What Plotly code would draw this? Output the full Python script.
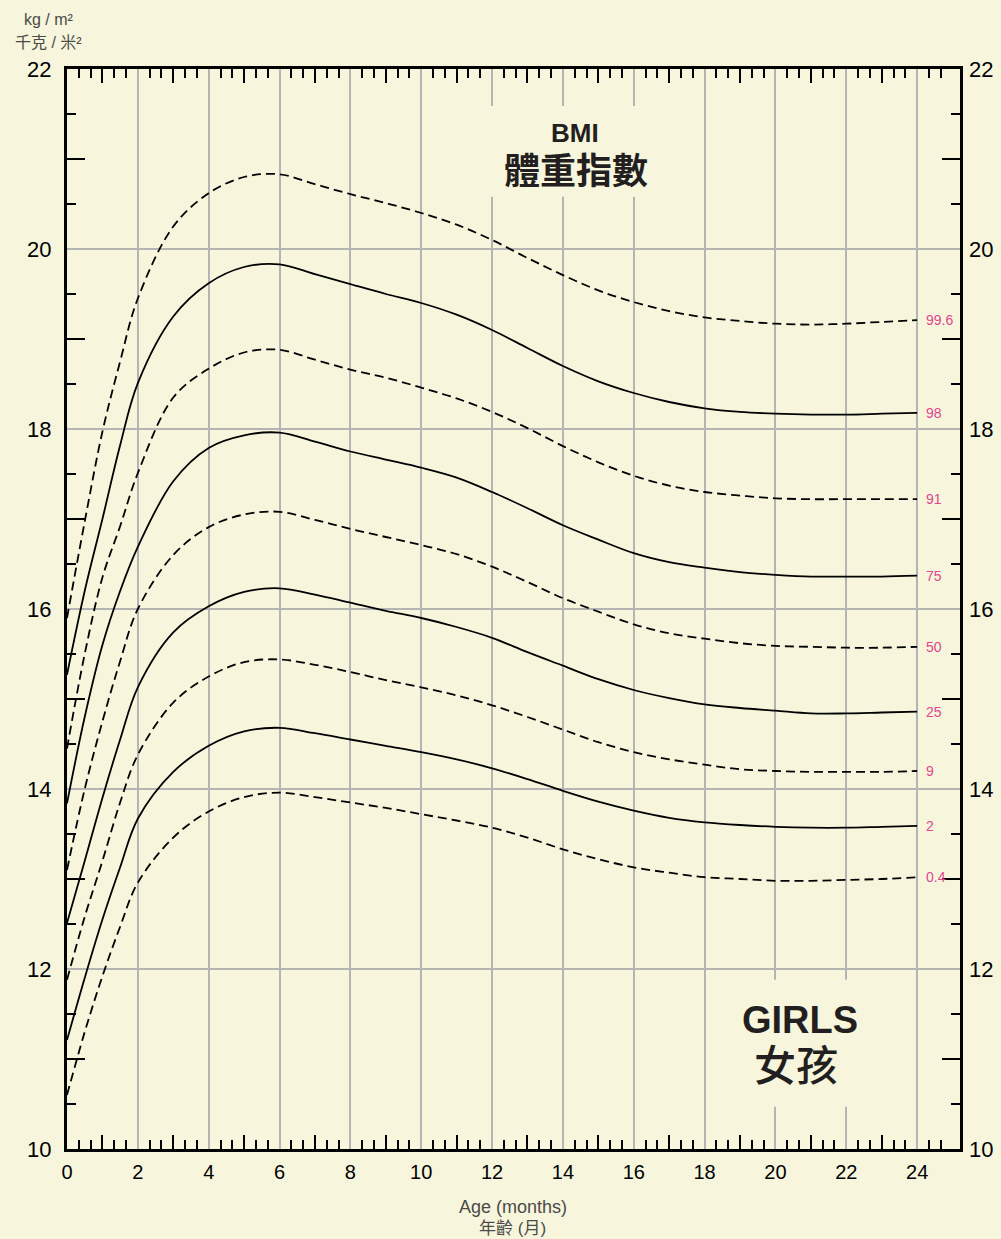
import plotly.graph_objects as go

# ---- data (BMI, girls, 0-24 months) ----
months = [0, 0.5, 1, 1.5, 2, 3, 4, 5, 6, 7, 8, 9, 10, 11, 12,
          13, 14, 15, 16, 17, 18, 19, 20, 21, 22, 23, 24]

p0_4 = [10.60, 11.30, 11.92, 12.47, 12.96, 13.46, 13.75, 13.91, 13.96, 13.91, 13.85, 13.79, 13.72, 13.65,
        13.57, 13.46, 13.33, 13.22, 13.13, 13.07, 13.02, 13.00, 12.98, 12.98, 12.99, 13.00, 13.02]
p2 = [11.21, 11.90, 12.55, 13.13, 13.67, 14.19, 14.48, 14.64, 14.68, 14.62, 14.55, 14.48, 14.41, 14.33,
      14.23, 14.11, 13.98, 13.86, 13.76, 13.68, 13.63, 13.60, 13.58, 13.57, 13.57, 13.58, 13.59]
p9 = [11.88, 12.58, 13.20, 13.85, 14.38, 14.96, 15.25, 15.41, 15.44, 15.38, 15.30, 15.21, 15.13, 15.04,
      14.93, 14.80, 14.66, 14.52, 14.41, 14.33, 14.27, 14.22, 14.20, 14.19, 14.19, 14.19, 14.20]
p25 = [12.51, 13.20, 13.90, 14.55, 15.13, 15.74, 16.03, 16.19, 16.23, 16.16, 16.07, 15.98, 15.90, 15.80,
       15.68, 15.52, 15.37, 15.22, 15.10, 15.01, 14.94, 14.90, 14.87, 14.84, 14.84, 14.85, 14.86]
p50 = [13.10, 14.00, 14.75, 15.42, 16.00, 16.60, 16.91, 17.05, 17.08, 16.99, 16.89, 16.80, 16.71, 16.61,
       16.47, 16.30, 16.12, 15.97, 15.83, 15.73, 15.67, 15.62, 15.59, 15.58, 15.57, 15.57, 15.58]
p75 = [13.84, 14.80, 15.60, 16.20, 16.69, 17.42, 17.79, 17.93, 17.96, 17.86, 17.75, 17.66, 17.57, 17.46,
       17.30, 17.12, 16.93, 16.77, 16.62, 16.52, 16.46, 16.41, 16.38, 16.36, 16.36, 16.36, 16.37]
p91 = [14.45, 15.50, 16.35, 16.92, 17.51, 18.35, 18.67, 18.85, 18.88, 18.77, 18.66, 18.57, 18.46, 18.34,
       18.19, 18.01, 17.81, 17.63, 17.48, 17.37, 17.30, 17.26, 17.23, 17.22, 17.22, 17.22, 17.22]
p98 = [15.27, 16.20, 17.00, 17.82, 18.51, 19.25, 19.62, 19.80, 19.83, 19.72, 19.61, 19.50, 19.40, 19.27,
       19.10, 18.90, 18.70, 18.53, 18.40, 18.30, 18.23, 18.19, 18.17, 18.16, 18.16, 18.17, 18.18]
p99_6 = [15.90, 16.97, 17.97, 18.75, 19.45, 20.25, 20.62, 20.80, 20.83, 20.72, 20.61, 20.51, 20.40, 20.27,
         20.10, 19.90, 19.71, 19.54, 19.41, 19.31, 19.24, 19.20, 19.17, 19.16, 19.17, 19.19, 19.21]

centile_names = ["0.4", "2", "9", "25", "50", "75", "91", "98", "99.6"]
centile_values = [p0_4, p2, p9, p25, p50, p75, p91, p98, p99_6]
dashed_centiles = ["0.4", "9", "50", "91", "99.6"]

x_labels = list(range(0, 25, 2))
y_labels = list(range(10, 23, 2))

# ---- style ----
BG = "#f7f6dc"
GRID = "#b4b4b4"
PINK = "#e0468c"
DARK = "#231f20"
LATIN = "Liberation Sans, Arial, sans-serif"
CJK = "Noto Sans CJK TC, sans-serif"

X_MAX = 25.21
Y_MIN, Y_MAX = 10, 22

# plot area in pixels (for placing text outside the axes)
L, R, T, B = 67, 960, 69, 1149


def px_x(p):
    return (p - L) / (R - L)


def px_y(p):
    return (B - p) / (B - T)


fig = go.Figure()

for name, vals in zip(centile_names, centile_values):
    fig.add_trace(go.Scatter(
        x=months, y=vals, mode="lines",
        line=dict(color="black", width=1.8, shape="spline", smoothing=1.0,
                  dash="9px,5px" if name in dashed_centiles else "solid"),
        hoverinfo="skip", showlegend=False
    ))
    fig.add_annotation(x=months[-1], y=vals[-1], text=name, showarrow=False,
                       xanchor="left", xshift=7, font=dict(color=PINK, size=14, family=LATIN))

# empty traces so the extra tick / label axes get drawn
for xa, ya in [("x2", "y"), ("x3", "y"), ("x", "y2"), ("x", "y3"), ("x", "y4")]:
    fig.add_trace(go.Scatter(x=[], y=[], xaxis=xa, yaxis=ya, hoverinfo="skip", showlegend=False))

# tick positions (inside ticks: short ones and long ones)
short_x = [k / 3 for k in range(1, 76) if k % 3 != 0]
long_x = list(range(1, 25, 2))
short_y = [v + 0.5 for v in range(10, 22)]
long_y = list(range(11, 22, 2))

tick_axis = dict(ticks="inside", tickwidth=1.6, tickcolor="black", showticklabels=False,
                 showgrid=False, zeroline=False, showline=False, mirror="ticks",
                 automargin=False)

fig.update_layout(
    width=1001, height=1239,
    margin=dict(l=L, r=1001 - R, t=T, b=1239 - B),
    paper_bgcolor=BG, plot_bgcolor=BG,
    font=dict(family=LATIN, color="black", size=20),
    xaxis=dict(range=[0, X_MAX], tickmode="array", tickvals=x_labels, ticks="",
               showgrid=True, gridcolor=GRID, gridwidth=2, zeroline=False,
               showline=True, linecolor="black", linewidth=3, mirror=True,
               automargin=False, ticklabelstandoff=3,
               tickfont=dict(size=20, color="black")),
    xaxis2=dict(overlaying="x", anchor="y", range=[0, X_MAX], tickmode="array",
                tickvals=short_x, ticklen=9, **tick_axis),
    xaxis3=dict(overlaying="x", anchor="y", range=[0, X_MAX], tickmode="array",
                tickvals=long_x, ticklen=14, **tick_axis),
    yaxis=dict(range=[Y_MIN, Y_MAX], tickmode="array", tickvals=y_labels, ticks="",
               showgrid=True, gridcolor=GRID, gridwidth=2, zeroline=False,
               showline=True, linecolor="black", linewidth=3, mirror=True,
               automargin=False, ticklabelstandoff=8,
               tickfont=dict(size=22, color="black")),
    yaxis2=dict(overlaying="y", anchor="x", side="right", range=[Y_MIN, Y_MAX],
                tickmode="array", tickvals=y_labels, ticks="", showgrid=False,
                zeroline=False, showline=False, automargin=False, ticklabelstandoff=8,
                tickfont=dict(size=22, color="black")),
    yaxis3=dict(overlaying="y", anchor="x", range=[Y_MIN, Y_MAX], tickmode="array",
                tickvals=short_y, ticklen=9, **tick_axis),
    yaxis4=dict(overlaying="y", anchor="x", range=[Y_MIN, Y_MAX], tickmode="array",
                tickvals=long_y, ticklen=18, **tick_axis),
)

# blank panels behind the chart titles (they cut the grid lines)
fig.add_shape(type="rect", xref="x", yref="y", x0=11.7, x1=16.5, y0=20.58, y1=21.59,
              fillcolor=BG, line_width=0, layer="above")
fig.add_shape(type="rect", xref="x", yref="y", x0=18.2, x1=23.66, y0=10.47, y1=11.88,
              fillcolor=BG, line_width=0, layer="above")

fig.add_annotation(x=14.34, y=21.29, text="<b>BMI</b>", showarrow=False,
                   font=dict(family=LATIN, size=26, color=DARK))
fig.add_annotation(x=14.36, y=20.90, text="<b>體重指數</b>", showarrow=False,
                   font=dict(family=CJK, size=36, color=DARK))
fig.add_annotation(x=20.70, y=11.43, text="<b>GIRLS</b>", showarrow=False,
                   font=dict(family=LATIN, size=38, color=DARK))
fig.add_annotation(x=20.58, y=10.96, text="女孩", showarrow=False,
                   font=dict(family=CJK, size=42, color=DARK, weight=500))

# axis captions
for text, cx, cy, size in [("kg / m²", 49, 19, 16), ("千克 / 米²", 48, 43, 16),
                           ("Age (months)", 513, 1207, 18), ("年齡 (月)", 512, 1229, 17)]:
    fig.add_annotation(xref="paper", yref="paper", x=px_x(cx), y=px_y(cy), text=text,
                       showarrow=False, xanchor="center", yanchor="middle",
                       font=dict(family=LATIN + ", " + CJK, size=size, color="#4a4a4a"))

fig.write_html("out.html", config={"displayModeBar": False},
               post_script="document.body.style.margin='0';")
